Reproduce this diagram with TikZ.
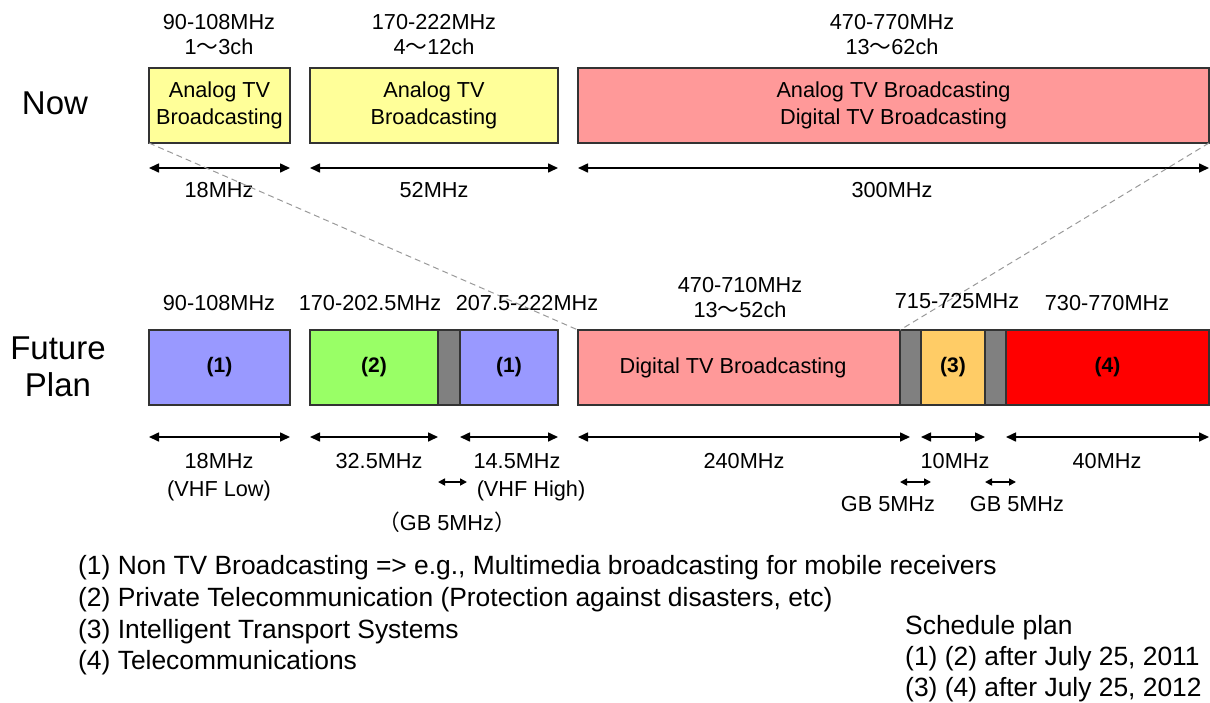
\documentclass[tikz,border=0pt]{standalone}
\usepackage{fontspec}
\setmainfont{Liberation Sans}
\newfontfamily\cjk{Noto Sans CJK JP}
\usetikzlibrary{arrows.meta}
\definecolor{cyellow}{HTML}{FFFF99}
\definecolor{cpink}{HTML}{FF9999}
\definecolor{cblue}{HTML}{9999FF}
\definecolor{cgreen}{HTML}{99FF66}
\definecolor{cgray}{HTML}{808080}
\definecolor{corange}{HTML}{FFCC66}
\definecolor{cred}{HTML}{FF0000}
\definecolor{cline}{HTML}{333333}
\newcommand{\wv}{{\cjk 〜}}
\tikzset{
  band/.style={draw=cline, line width=1.3pt, inner sep=0pt, outer sep=0pt, anchor=north west, align=center, font=\fontsize{21.7}{27}\selectfont},
  lbl/.style={inner sep=0pt, font=\fontsize{21.7}{26}\selectfont},
  big/.style={inner sep=0pt, font=\fontsize{33}{37}\selectfont, align=center},
  leg/.style={inner sep=0pt, anchor=west, font=\fontsize{26.4}{30}\selectfont},
  num/.style={font=\bfseries\fontsize{21}{24}\selectfont},
  span/.style={line width=1.6pt, {Triangle[length=10pt,width=9pt]}-{Triangle[length=10pt,width=9pt]}},
  gb/.style={line width=1.6pt, {Triangle[length=7pt,width=7pt]}-{Triangle[length=7pt,width=7pt]}},
  guide/.style={draw=gray!80, line width=1pt, dash pattern=on 6pt off 4pt}
}
\begin{document}
\begin{tikzpicture}[x=1pt,y=-1pt]
\useasboundingbox (0,0) rectangle (1210,702);
% Now row
\node[big] (now) at (55,103) {Now};
\node[band, fill=cyellow, minimum width=141pt, minimum height=75pt] (a1) at (149,68) {Analog TV\\Broadcasting};
\node[band, fill=cyellow, minimum width=248pt, minimum height=75pt] (a2) at (310,68) {Analog TV\\Broadcasting};
\node[band, fill=cpink, minimum width=631pt, minimum height=75pt] (a3) at (578,68) {Analog TV Broadcasting\\Digital TV Broadcasting};
\node[lbl] (t1a) at (219,22) {90-108MHz};
\node[lbl] (t1b) at (219,47) {1\wv3ch};
\node[lbl] (t2a) at (434,22) {170-222MHz};
\node[lbl] (t2b) at (434,47) {4\wv12ch};
\node[lbl] (t3a) at (892,22) {470-770MHz};
\node[lbl] (t3b) at (892,47) {13\wv62ch};
\coordinate (s1l) at (149,168); \coordinate (s1r) at (290,168);
\coordinate (s2l) at (310,168); \coordinate (s2r) at (558,168);
\coordinate (s3l) at (578,168); \coordinate (s3r) at (1209,168);
\draw[span] (s1l) -- (s1r);
\draw[span] (s2l) -- (s2r);
\draw[span] (s3l) -- (s3r);
\node[lbl] (w1) at (219,190) {18MHz};
\node[lbl] (w2) at (434,190) {52MHz};
\node[lbl] (w3) at (892,190) {300MHz};
% Future row
\node[big] (fut) at (58,367) {Future\\Plan};
\node[band, fill=cblue, minimum width=141pt, minimum height=75pt] (b1) at (149,330) {};
\node[num] at (b1.center) {(1)};
\node[band, fill=cgreen, minimum width=128pt, minimum height=75pt] (b2) at (310,330) {};
\node[num] at (b2.center) {(2)};
\node[band, fill=cgray, minimum width=22pt, minimum height=75pt] (g1) at (438,330) {};
\node[band, fill=cblue, minimum width=98pt, minimum height=75pt] (b3) at (460,330) {};
\node[num] at (b3.center) {(1)};
\node[band, fill=cpink, minimum width=322pt, minimum height=75pt] (b4) at (578,330) {};
\node[lbl] at (733,368) {Digital TV Broadcasting};
\node[band, fill=cgray, minimum width=21pt, minimum height=75pt] (g2) at (900,330) {};
\node[band, fill=corange, minimum width=64pt, minimum height=75pt] (b5) at (921,330) {};
\node[num] at (b5.center) {(3)};
\node[band, fill=cgray, minimum width=21pt, minimum height=75pt] (g3) at (985,330) {};
\node[band, fill=cred, minimum width=203pt, minimum height=75pt] (b6) at (1006,330) {};
\node[num] at (b6.center) {(4)};
% dashed guides
\draw[guide] (a1.south west) -- (b4.north west);
\draw[guide] (a3.south east) -- (g2.north west);
% future labels
\node[lbl] (f1) at (219,303) {90-108MHz};
\node[lbl] (f2) at (370,303) {170-202.5MHz};
\node[lbl] (f3) at (527,303) {207.5-222MHz};
\node[lbl] (f4a) at (740,285) {470-710MHz};
\node[lbl] (f4b) at (740,310) {13\wv52ch};
\node[lbl] (f5) at (957,301) {715-725MHz};
\node[lbl] (f6) at (1107,303) {730-770MHz};
% spans
\coordinate (p1l) at (149,437); \coordinate (p1r) at (290,437);
\coordinate (p2l) at (310,437); \coordinate (p2r) at (438,437);
\coordinate (p3l) at (460,437); \coordinate (p3r) at (558,437);
\coordinate (p4l) at (578,437); \coordinate (p4r) at (910,437);
\coordinate (p5l) at (921,437); \coordinate (p5r) at (985,437);
\coordinate (p6l) at (1006,437); \coordinate (p6r) at (1209,437);
\draw[span] (p1l) -- (p1r);
\draw[span] (p2l) -- (p2r);
\draw[span] (p3l) -- (p3r);
\draw[span] (p4l) -- (p4r);
\draw[span] (p5l) -- (p5r);
\draw[span] (p6l) -- (p6r);
\node[lbl] at (219,461) {18MHz};
\node[lbl] at (379,461) {32.5MHz};
\node[lbl] at (517,461) {14.5MHz};
\node[lbl] at (744,461) {240MHz};
\node[lbl] at (955,461) {10MHz};
\node[lbl] at (1107,461) {40MHz};
\node[lbl] at (219,491) {(VHF Low)};
\node[lbl] at (531,491) {(VHF High)};
\coordinate (q1l) at (438,482); \coordinate (q1r) at (467,482);
\coordinate (q2l) at (900,482); \coordinate (q2r) at (931,482);
\coordinate (q3l) at (985,482); \coordinate (q3r) at (1016,482);
\draw[gb] (q1l) -- (q1r);
\draw[gb] (q2l) -- (q2r);
\draw[gb] (q3l) -- (q3r);
\node[lbl] at (447,522) {{\cjk （}GB 5MHz{\cjk ）}};
\node[lbl] at (888,504) {GB 5MHz};
\node[lbl] at (1017,504) {GB 5MHz};
% legend
\node[leg] (l1) at (78,568) {(1) Non TV Broadcasting => e.g., Multimedia broadcasting for mobile receivers};
\node[leg] (l2) at (78,600) {(2) Private Telecommunication (Protection against disasters, etc)};
\node[leg] (l3) at (78,632) {(3) Intelligent Transport Systems};
\node[leg] (l4) at (78,663) {(4) Telecommunications};
\node[leg] (s1) at (905,628) {Schedule plan};
\node[leg] (s2) at (905,659) {(1) (2) after July 25, 2011};
\node[leg] (s3) at (905,690) {(3) (4) after July 25, 2012};
\end{tikzpicture}
\end{document}
